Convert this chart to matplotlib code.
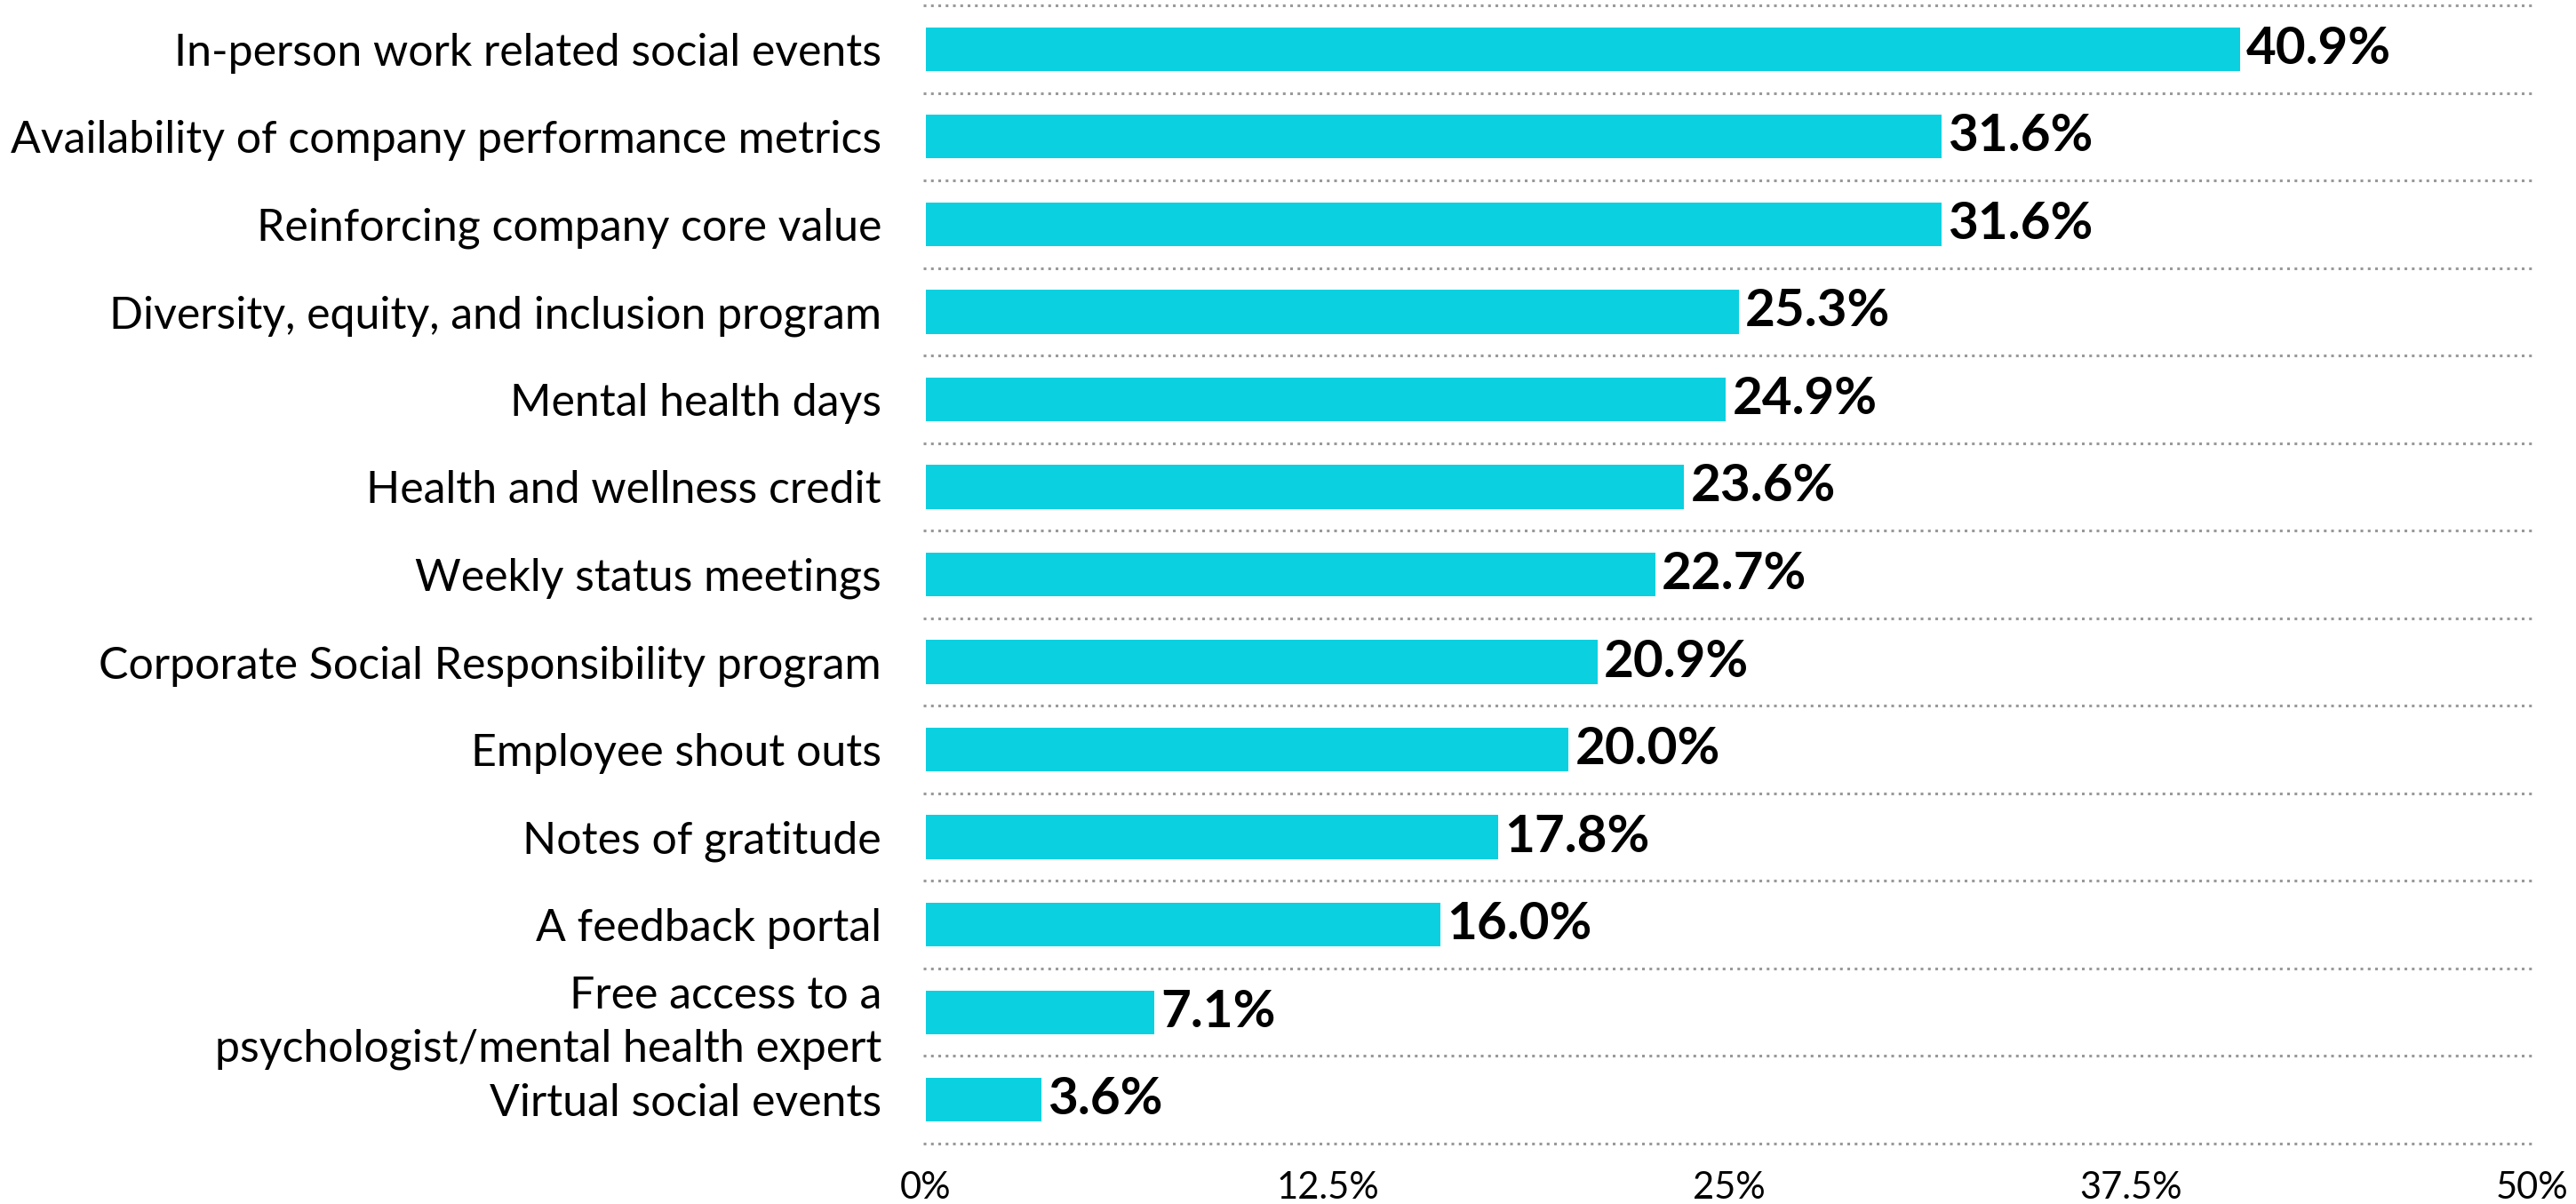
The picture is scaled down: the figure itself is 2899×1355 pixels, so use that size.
import matplotlib
matplotlib.use("Agg")
import matplotlib.pyplot as plt
from matplotlib.ticker import FixedLocator

categories = [
    "In-person work related social events",
    "Availability of company performance metrics",
    "Reinforcing company core value",
    "Diversity, equity, and inclusion program",
    "Mental health days",
    "Health and wellness credit",
    "Weekly status meetings",
    "Corporate Social Responsibility program",
    "Employee shout outs",
    "Notes of gratitude",
    "A feedback portal",
    "Free access to a\npsychologist/mental health expert",
    "Virtual social events",
]
values = [40.9, 31.6, 31.6, 25.3, 24.9, 23.6, 22.7, 20.9, 20.0, 17.8, 16.0, 7.1, 3.6]
xticks = [0, 12.5, 25, 37.5, 50]
xtick_labels = ["0%", "12.5%", "25%", "37.5%", "50%"]

plt.rcParams['font.family'] = ['Lato', 'DejaVu Sans']

W, H = 2899, 1355
L, R, T, B = 1042, 2850, 6, 1287
fig = plt.figure(figsize=(W / 100, H / 100), dpi=100)
ax = fig.add_axes([L / W, 1 - B / H, (R - L) / W, (B - T) / H])

n = len(categories)
ypos = list(range(n))
ax.barh(ypos, values, height=0.5, color="#0BD0E0", zorder=2)
ax.set_ylim(n - 0.5, -0.5)
ax.set_xlim(0, 50)

for y, v in zip(ypos, values):
    ax.text(v + 0.2, y, f"{v:.1f}%", va="center", ha="left",
            fontsize=42, fontweight="bold", color="black")

# dotted row separators
for b in [i - 0.5 for i in range(n + 1)]:
    ax.plot([-0.08, 50], [b, b], color="#999999", linestyle=(0, (1, 1.7)),
            linewidth=2.2, zorder=1, clip_on=False)

ax.set_yticks(ypos)
ax.set_yticklabels(categories, fontsize=36, color="black")
for lab in ax.get_yticklabels():
    lab.set_linespacing(1.38)
ax.xaxis.set_major_locator(FixedLocator(xticks))
ax.set_xticklabels(xtick_labels, fontsize=30, color="black")
ax.tick_params(axis="both", length=0)
ax.tick_params(axis="y", pad=36)
ax.tick_params(axis="x", pad=22)
for s in ax.spines.values():
    s.set_visible(False)

fig.savefig("out.png", dpi=100)
